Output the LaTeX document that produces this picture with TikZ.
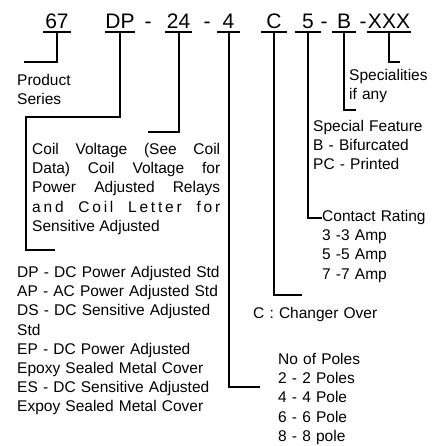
\documentclass[tikz,border=0pt]{standalone}
\usepackage{fontspec}
\setmainfont{Liberation Sans}
\usetikzlibrary{calc}
\tikzset{
  codepart/.style={font=\fontsize{21}{21}\selectfont, anchor=base, inner sep=0pt, text height=16pt, text depth=3.5pt, minimum width=#1},
  codedash/.style={font=\fontsize{21}{21}\selectfont, anchor=base, inner sep=0pt},
  codebar/.style={line width=2.2pt},
  leadline/.style={line width=2pt},
  desc/.style={font=\fontsize{15.5}{19.2}\selectfont, anchor=north west, inner sep=0pt, align=left, text width=#1},
  desc/.default=130pt,
  descjust/.style={desc=188pt, align=justify},
}
\begin{document}
\begin{tikzpicture}[x=1pt,y=-1pt]
  \useasboundingbox (0,0) rectangle (445,446);

  % part number
  \node[codepart=28pt] (c67) at (57,28.5) {67};
  \node[codepart=28pt] (cDP) at (120,28.5) {DP};
  \node[codedash] (d1) at (148,28.5) {-};
  \node[codepart=27pt] (c24) at (178.5,28.5) {24};
  \node[codedash] (d2) at (207,28.5) {-};
  \node[codepart=23pt] (c4) at (228.5,28.5) {4};
  \node[codepart=26pt] (cC) at (274,28.5) {C};
  \node[codepart=26pt] (c5) at (308,28.5) {5};
  \node[codedash] (d3) at (324,28.5) {-};
  \node[codepart=24pt] (cB) at (344,28.5) {B};
  \node[codedash] (d4) at (363,28.5) {-};
  \node[codepart=44pt] (cXXX) at (389,28.5) {XXX};

  \draw[codebar] (c67.south west) -- (c67.south east);
  \draw[codebar] (cDP.south west) -- (cDP.south east);
  \draw[codebar] (c24.south west) -- (c24.south east);
  \draw[codebar] (c4.south west) -- (c4.south east);
  \draw[codebar] (cC.south west) -- (cC.south east);
  \draw[codebar] (c5.south west) -- (c5.south east);
  \draw[codebar] (cB.south west) -- (cB.south east);
  \draw[codebar] (cXXX.south west) -- (cXXX.south east);

  % descriptions
  \node[desc] (series) at (17,74) {Product\\Series};
  \node[desc] (special) at (349,69) {Specialities\\if any};
  \node[desc] (feature) at (313,120) {Special Feature\\B - Bifurcated\\PC - Printed};
  \node[descjust] (coil) at (32,143) {Coil Voltage (See Coil\linebreak
    Data) Coil Voltage for\linebreak Power Adjusted Relays\linebreak
    {\addfontfeature{LetterSpace=18}and Coil Letter for}\linebreak Sensitive Adjusted};
  \node[desc] (rating) at (322,210) {Contact Rating\\3 -3 Amp\\5 -5 Amp\\7 -7 Amp};
  \node[desc=215pt] (seriesList) at (17,266) {DP - DC Power Adjusted Std\\AP - AC Power Adjusted Std\\DS - DC Sensitive Adjusted\\Std\\EP - DC Power Adjusted\\Epoxy Sealed Metal Cover\\ES - DC Sensitive Adjusted\\Expoy Sealed Metal Cover};
  \node[desc] (changer) at (253,307) {C : Changer Over};
  \node[desc] (poles) at (278,353) {No of Poles\\2 - 2 Poles\\4 - 4 Pole\\6 - 6 Pole\\8 - 8 pole};

  % leader ends
  \coordinate (k67) at (24,62);
  \coordinate (kDP1) at (26,117);
  \coordinate (kDP2) at (55,250);
  \coordinate (k24) at (148,132);
  \coordinate (k4) at (260,387);
  \coordinate (kC) at (302,295);
  \coordinate (k5) at (322,218);
  \coordinate (kB) at (356,110);
  \coordinate (kXXX) at (400,62);

  \draw[leadline] (c67.south) |- (k67);
  \draw[leadline] (cDP.south) |- (kDP1) |- (kDP2);
  \draw[leadline] (c24.south) |- (k24);
  \draw[leadline] (c4.south) |- (k4);
  \draw[leadline] (cC.south) |- (kC);
  \draw[leadline] (c5.south) |- (k5);
  \draw[leadline] (cB.south) |- (kB);
  \draw[leadline] (cXXX.south) |- (kXXX);
\end{tikzpicture}
\end{document}
